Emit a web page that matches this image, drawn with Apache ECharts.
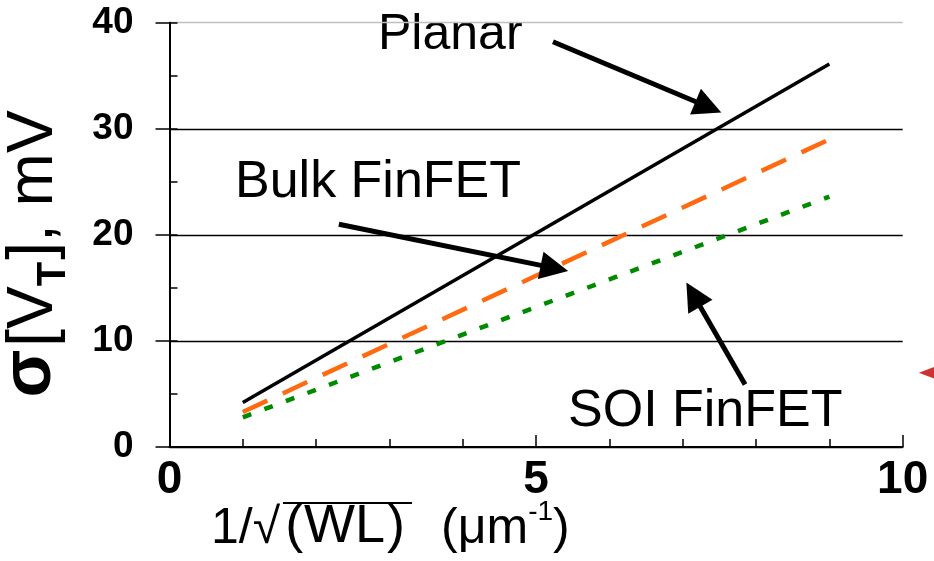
<!DOCTYPE html>
<html>
<head>
<meta charset="utf-8">
<script src="https://cdn.jsdelivr.net/npm/echarts@6/dist/echarts.min.js"></script>
<style>
html,body{margin:0;padding:0;background:#fff;}
#c{width:934px;height:561px;}
</style>
</head>
<body>
<div id="c"></div>
<script>
// ---- data ----
var xVals = [1, 9];
var planar = [4.2, 36.1];
var bulkFinFET = [3.3, 29.0];
var soiFinFET = [2.8, 23.6];
var xTickLabels = ['0', '5', '10'];
var yTickLabels = ['0', '10', '20', '30', '40'];
// annotation arrows [start, end] in data coordinates
var arrowPlanar = [[5.23, 38.2], [7.35, 32.05]];
var arrowBulk = [[2.31, 21.0], [5.25, 16.86]];
var arrowSOI = [[7.85, 5.9], [7.145, 14.36]];
var offMarker = [[10.37, 7.0]];

function pairs(xs, ys) { return xs.map(function (x, i) { return [x, ys[i]]; }); }

var FONT = 'Liberation Sans, Arial, sans-serif';
var chart = echarts.init(document.getElementById('c'), null, {renderer: 'canvas'});

function arrowLine(a) {
  return [{coord: a[0], symbol: 'none'}, {coord: a[1], symbol: 'triangle'}];
}

var option = {
  animation: false,
  backgroundColor: '#fff',
  grid: {left: 169.5, right: 31.3, top: 22.7, bottom: 114, containLabel: false},
  xAxis: {
    type: 'value', min: 0, max: 10, interval: 5,
    axisLine: {show: true, lineStyle: {color: '#000', width: 2}},
    axisTick: {show: true, inside: true, length: 12, lineStyle: {color: '#000', width: 1.5}},
    minorTick: {show: true, splitNumber: 5, length: 8, lineStyle: {color: '#000', width: 1.5}},
    splitLine: {show: false},
    axisLabel: {
      color: '#000', fontFamily: FONT, fontWeight: 'bold', fontSize: 46, margin: 10,
      formatter: function (v) { var i = Math.round(v / 5); return xTickLabels[i]; }
    }
  },
  yAxis: [{
    type: 'value', min: 0, max: 40, interval: 10,
    axisLine: {show: true, lineStyle: {color: '#000', width: 2}},
    axisTick: {show: true, inside: true, length: 8, lineStyle: {color: '#000', width: 1.5}},
    minorTick: {show: true, splitNumber: 2, length: 8, lineStyle: {color: '#000', width: 1.5}},
    splitLine: {show: true, lineStyle: {color: ['#000', '#000', '#000', '#000', '#c0c0c0'], width: 1.3}},
    axisLabel: {
      color: '#000', fontFamily: FONT, fontWeight: 'bold', fontSize: 37, margin: 36,
      formatter: function (v) { return yTickLabels[Math.round(v / 10)]; }
    }
  }, {
    type: 'value', min: 0, max: 40, interval: 10, position: 'left',
    axisLine: {show: false},
    axisTick: {show: true, inside: false, length: 14, lineStyle: {color: '#000', width: 1.5}},
    axisLabel: {show: false},
    splitLine: {show: false}
  }],
  series: [{
    name: 'Planar', type: 'line', data: pairs(xVals, planar), showSymbol: false, symbol: 'none',
    lineStyle: {color: '#000', width: 3.5},
    markLine: {
      silent: true, symbolSize: 28, animation: false,
      label: {show: false},
      lineStyle: {color: '#000', width: 5, type: 'solid'},
      itemStyle: {color: '#000'},
      data: [arrowLine(arrowPlanar), arrowLine(arrowBulk), arrowLine(arrowSOI)]
    }
  }, {
    name: 'Bulk FinFET', type: 'line', data: pairs(xVals, bulkFinFET), showSymbol: false, symbol: 'none',
    lineStyle: {color: '#ff6a10', width: 4.5, type: [27, 17]}
  }, {
    name: 'SOI FinFET', type: 'line', data: pairs(xVals, soiFinFET), showSymbol: false, symbol: 'none',
    lineStyle: {color: '#008a00', width: 4.5, type: [9, 14]}
  }, {
    name: 'marker', type: 'scatter', data: offMarker, clip: false,
    symbol: 'triangle', symbolRotate: 90, symbolSize: [17, 22],
    itemStyle: {color: '#c00000'}
  }],
  graphic: [
    {type: 'text', left: 378, top: 10, style: {text: 'Planar', font: '50px ' + FONT, fill: '#000'}},
    {type: 'text', left: 235, top: 157, style: {text: 'Bulk FinFET', font: '52px ' + FONT, fill: '#000'}},
    {type: 'text', left: 568, top: 386, style: {text: 'SOI FinFET', font: '52px ' + FONT, fill: '#000'}},
    {
      type: 'text', left: 211, top: 498,
      style: {
        text: '{n|1/}{r|√}{p|(}{w|WL}{q|)}{n|(μm}{s|-1}{n|)}',
        fill: '#000',
        rich: {
          n: {fontFamily: FONT, fontSize: 50, lineHeight: 56, verticalAlign: 'bottom', color: '#000'},
          r: {fontFamily: FONT, fontSize: 50, lineHeight: 56, verticalAlign: 'bottom', color: '#000'},
          p: {fontFamily: FONT, fontSize: 54, lineHeight: 56, verticalAlign: 'bottom', color: '#000', padding: [0, 1, 0, 5]},
          w: {fontFamily: FONT, fontSize: 54, lineHeight: 56, verticalAlign: 'bottom', color: '#000', padding: [0, 2, 0, 0]},
          q: {fontFamily: FONT, fontSize: 54, lineHeight: 56, verticalAlign: 'bottom', color: '#000', padding: [0, 36, 0, 0]},
          s: {fontFamily: FONT, fontSize: 28, lineHeight: 56, verticalAlign: 'top', color: '#000'}
        }
      }
    },
    {type: 'line', shape: {x1: 283, y1: 503, x2: 412, y2: 503}, style: {stroke: '#000', lineWidth: 2}},
    {
      type: 'text', x: 31, y: 254, rotation: Math.PI / 2,
      style: {
        text: '{g|σ}{n|[V}{t|T}{n|], mV}',
        align: 'center', verticalAlign: 'middle',
        rich: {
          g: {fontFamily: FONT, fontSize: 70, fontWeight: 'bold', lineHeight: 70, verticalAlign: 'bottom', color: '#000', padding: [0, 3, 0, 0]},
          n: {fontFamily: FONT, fontSize: 64, lineHeight: 70, verticalAlign: 'bottom', color: '#000'},
          t: {fontFamily: FONT, fontSize: 40, fontWeight: 'bold', lineHeight: 70, verticalAlign: 'bottom', padding: [0, 2, -8, 0], color: '#000'}
        }
      }
    }
  ]
};
chart.setOption(option);
</script>
</body>
</html>
